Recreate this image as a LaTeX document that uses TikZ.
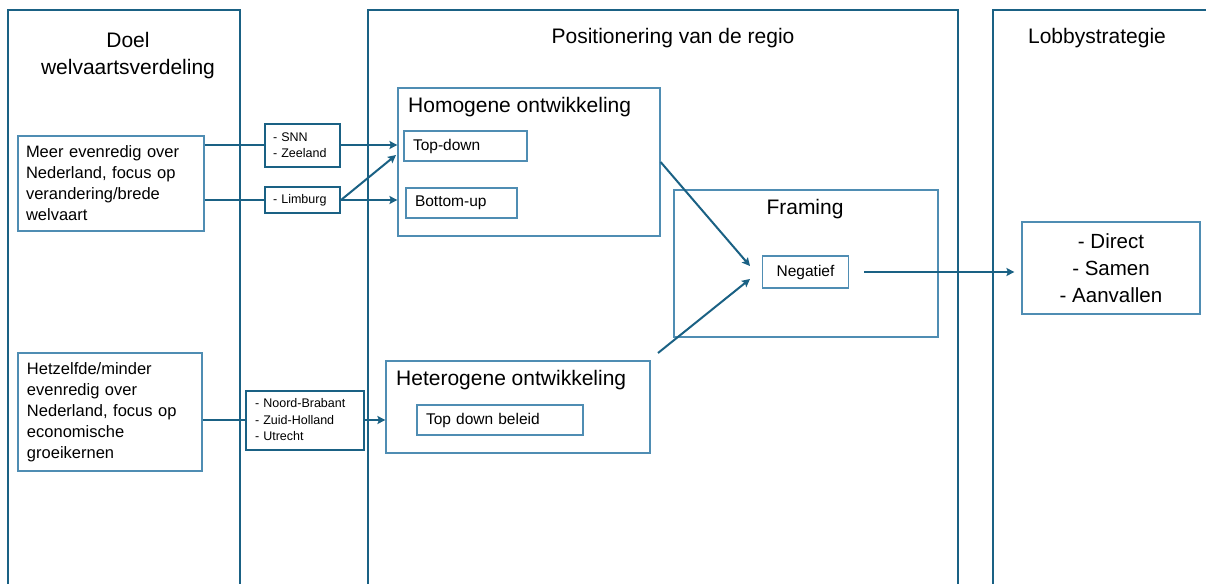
\documentclass[tikz,border=0pt]{standalone}
\usepackage{fontspec}
\setmainfont{Liberation Sans}
\usetikzlibrary{arrows.meta}

\definecolor{lijn}{HTML}{1A6184}
\definecolor{kader}{HTML}{4F8DB3}

\tikzset{
  kolom/.style={draw=lijn, line width=2pt},
  blok/.style={draw=kader, line width=1.2pt, inner sep=0pt},
  regio/.style={draw=lijn, line width=2pt, inner sep=0pt, align=left,
    font=\fontsize{12.5}{16.5}\selectfont},
  kop/.style={font=\fontsize{21}{27}\selectfont},
  tekst/.style={font=\fontsize{16.5}{21}\selectfont},
  klein/.style={font=\fontsize{15.5}{19}\selectfont},
  verbind/.style={draw=lijn, line width=2pt},
  pijl/.style={verbind, -{Stealth[length=8pt,width=8pt,inset=1.5pt]}},
}

\begin{document}
\begin{tikzpicture}[x=1pt,y=-1pt]
    \useasboundingbox[fill=white] (0,0) rectangle (1206,583);

    % kolommen
    \draw[kolom] (8,600) -- (8,10) -- (240,10) -- (240,600);
    \draw[kolom] (368,600) -- (368,10) -- (958,10) -- (958,600);
    \draw[kolom] (993,600) -- (993,10) -- (1215,10);

    \node[kop, align=center] (doel) at (128,56) {Doel\\welvaartsverdeling};
    \node[kop] (positie) at (673,38) {Positionering van de regio};
    \node[kop] (lobby) at (1097,38) {Lobbystrategie};

    % doelen
    \node[blok, tekst, minimum width=186, minimum height=95, text width=170, align=left]
        (meer) at (111,183.5) {Meer evenredig over\\Nederland, focus op\\verandering/brede\\welvaart};
    \node[blok, tekst, minimum width=184, minimum height=118, text width=166, align=left]
        (hetz) at (110,412) {Hetzelfde/minder\\evenredig over\\Nederland, focus op\\economische\\groeikernen};

    % regio's
    \node[regio, minimum width=75, minimum height=43, text width=59] (snn) at (302.5,145) {- SNN\\- Zeeland};
    \node[regio, minimum width=75, minimum height=26, text width=59] (limburg) at (302.5,200) {- Limburg};
    \node[regio, minimum width=118, minimum height=59, text width=100] (brabant) at (305,420) {- Noord-Brabant\\- Zuid-Holland\\- Utrecht};

    % positionering
    \node[blok, minimum width=262, minimum height=148] (homog) at (529,162) {};
    \node[kop, anchor=west, inner sep=0pt] (homogkop) at (408,107) {Homogene ontwikkeling};
    \node[blok, klein, minimum width=123, minimum height=30, text width=105, align=left] (topdown) at (465.5,146) {Top-down};
    \node[blok, klein, minimum width=111, minimum height=30, text width=93, align=left] (bottomup) at (461.5,203) {Bottom-up};

    \node[blok, minimum width=264, minimum height=92] (hetero) at (518,407) {};
    \node[kop, anchor=west, inner sep=0pt] (heterokop) at (396,380) {Heterogene ontwikkeling};
    \node[blok, klein, minimum width=166, minimum height=30, text width=148, align=left] (beleid) at (500,420) {Top down beleid};

    \node[blok, minimum width=264, minimum height=147] (framing) at (806,263.5) {};
    \node[kop] (framingkop) at (805,209) {Framing};
    \node[blok, klein, minimum width=86, minimum height=32] (negatief) at (805.5,272) {Negatief};

    % strategie
    \node[blok, font=\fontsize{20.5}{27}\selectfont, minimum width=178, minimum height=92, align=center]
        (strategie) at (1111,268) {- Direct\\- Samen\\- Aanvallen};

    % verbindingen
    \coordinate (inTD) at (396,155);
    \coordinate (neg1) at (750,266);
    \coordinate (neg2) at (750,279);
    \coordinate (heterouit) at (658,353);

    \draw[verbind] (meer.east |- snn) -- (snn.west);
    \draw[verbind] (meer.east |- limburg) -- (limburg.west);
    \draw[pijl] (snn.east) -- (homog.west |- snn);
    \draw[pijl] (limburg.east) -- (homog.west |- limburg);
    \draw[pijl] (limburg.east) -- (inTD);
    \draw[verbind] (hetz.east |- brabant) -- (brabant.west);
    \draw[pijl] (brabant.east) -- (hetero.west |- brabant);
    \draw[pijl] (homog.east) -- (neg1);
    \draw[pijl] (heterouit) -- (neg2);
    \draw[pijl] ([xshift=15pt]negatief.east) -- ([xshift=-7pt]strategie.west |- negatief.east);
\end{tikzpicture}
\end{document}
